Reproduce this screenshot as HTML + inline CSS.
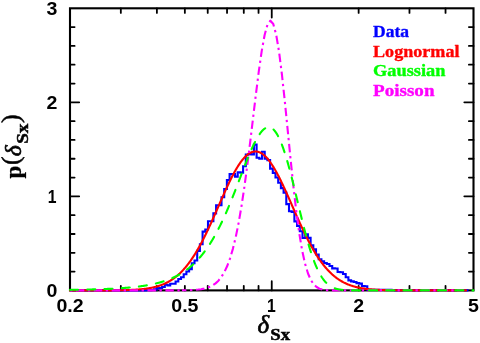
<!DOCTYPE html>
<html><head><meta charset="utf-8"><title>p(delta_Sx)</title>
<style>html,body{margin:0;padding:0;background:#fff;}body{width:480px;height:343px;overflow:hidden;font-family:"Liberation Sans",sans-serif;}svg{display:block;}.sans{font-family:"Liberation Sans",sans-serif;font-weight:bold;}.serif{font-family:"Liberation Serif",serif;font-weight:bold;}.it{font-family:"Liberation Serif",serif;font-style:italic;font-weight:normal;}</style></head><body>
<svg width="480" height="343" viewBox="0 0 480 343">
<rect width="480" height="343" fill="#fff"/>
<g fill="none" stroke="#000" stroke-width="2.1" stroke-linecap="square">
<rect x="70.00" y="8.30" width="403.50" height="282.10"/>
</g>
<path d="M120.83 290.40 V285.80 M120.83 8.30 V12.90 M156.89 290.40 V285.80 M156.89 8.30 V12.90 M184.86 290.40 V285.80 M184.86 8.30 V12.90 M207.72 290.40 V285.80 M207.72 8.30 V12.90 M227.04 290.40 V285.80 M227.04 8.30 V12.90 M243.78 290.40 V285.80 M243.78 8.30 V12.90 M258.54 290.40 V285.80 M258.54 8.30 V12.90 M271.75 290.40 V281.20 M271.75 8.30 V17.50 M358.64 290.40 V285.80 M358.64 8.30 V12.90 M409.47 290.40 V285.80 M409.47 8.30 V12.90 M445.53 290.40 V285.80 M445.53 8.30 V12.90 M70.00 271.59 H74.60 M473.50 271.59 H468.90 M70.00 252.79 H74.60 M473.50 252.79 H468.90 M70.00 233.98 H74.60 M473.50 233.98 H468.90 M70.00 215.17 H74.60 M473.50 215.17 H468.90 M70.00 196.37 H79.20 M473.50 196.37 H464.30 M70.00 177.56 H74.60 M473.50 177.56 H468.90 M70.00 158.75 H74.60 M473.50 158.75 H468.90 M70.00 139.95 H74.60 M473.50 139.95 H468.90 M70.00 121.14 H74.60 M473.50 121.14 H468.90 M70.00 102.33 H79.20 M473.50 102.33 H464.30 M70.00 83.53 H74.60 M473.50 83.53 H468.90 M70.00 64.72 H74.60 M473.50 64.72 H468.90 M70.00 45.91 H74.60 M473.50 45.91 H468.90 M70.00 27.11 H74.60 M473.50 27.11 H468.90" fill="none" stroke="#000" stroke-width="1.8" stroke-linecap="round"/>
<g fill="none" stroke-width="2.1" stroke-linejoin="round">
<path d="M70.00 290.40 L70.30 290.40 L70.30 290.40 L73.00 290.40 L73.00 290.40 L75.70 290.40 L75.70 290.40 L78.40 290.40 L78.40 290.40 L81.10 290.40 L81.10 290.40 L83.80 290.40 L83.80 290.40 L86.50 290.40 L86.50 290.40 L89.20 290.40 L89.20 290.40 L91.90 290.40 L91.90 290.40 L94.60 290.40 L94.60 290.40 L97.30 290.40 L97.30 290.40 L100.00 290.40 L100.00 290.40 L102.70 290.40 L102.70 290.40 L105.40 290.40 L105.40 290.40 L108.10 290.40 L108.10 290.40 L110.80 290.40 L110.80 290.40 L113.50 290.40 L113.50 290.40 L116.20 290.40 L116.20 290.40 L118.90 290.40 L118.90 290.40 L121.60 290.40 L121.60 290.39 L124.30 290.39 L124.30 290.39 L127.00 290.39 L127.00 290.39 L129.70 290.39 L129.70 290.38 L132.40 290.38 L132.40 290.38 L135.10 290.38 L135.10 290.37 L137.80 290.37 L137.80 290.36 L140.50 290.36 L140.50 290.35 L143.20 290.35 L143.20 290.33 L145.90 290.33 L145.90 290.23 L148.60 290.23 L148.60 290.20 L151.30 290.20 L151.30 289.93 L154.00 289.93 L154.00 289.41 L156.70 289.41 L156.70 288.25 L159.40 288.25 L159.40 287.97 L162.10 287.97 L162.10 286.99 L164.80 286.99 L164.80 284.74 L167.50 284.74 L167.50 285.39 L170.20 285.39 L170.20 283.76 L172.90 283.76 L172.90 283.77 L175.60 283.77 L175.60 281.56 L178.30 281.56 L178.30 278.93 L181.00 278.93 L181.00 277.29 L183.70 277.29 L183.70 274.29 L186.40 274.29 L186.40 271.44 L189.10 271.44 L189.10 269.11 L191.80 269.11 L191.80 263.29 L194.50 263.29 L194.50 260.48 L197.20 260.48 L197.20 250.91 L199.90 250.91 L199.90 244.32 L202.60 244.32 L202.60 231.63 L205.30 231.63 L205.30 229.47 L208.00 229.47 L208.00 221.19 L210.70 221.19 L210.70 221.19 L213.40 221.19 L213.40 213.39 L216.10 213.39 L216.10 205.21 L218.80 205.21 L218.80 205.21 L221.50 205.21 L221.50 197.31 L224.20 197.31 L224.20 188.94 L226.90 188.94 L226.90 180.10 L229.60 180.10 L229.60 174.08 L232.30 174.08 L232.30 174.08 L235.00 174.08 L235.00 176.62 L237.70 176.62 L237.70 172.29 L240.40 172.29 L240.40 172.67 L243.10 172.67 L243.10 166.28 L245.80 166.28 L245.80 154.62 L248.50 154.62 L248.50 154.05 L251.20 154.05 L251.20 154.33 L253.90 154.33 L253.90 144.65 L256.60 144.65 L256.60 157.81 L259.30 157.81 L259.30 158.75 L262.00 158.75 L262.00 151.70 L264.70 151.70 L264.70 158.75 L267.40 158.75 L267.40 160.16 L270.10 160.16 L270.10 168.63 L272.80 168.63 L272.80 172.86 L275.50 172.86 L275.50 177.56 L278.20 177.56 L278.20 182.77 L280.90 182.77 L280.90 188.11 L283.60 188.11 L283.60 192.62 L286.30 192.62 L286.30 204.09 L289.00 204.09 L289.00 211.26 L291.70 211.26 L291.70 211.92 L294.40 211.92 L294.40 221.38 L297.10 221.38 L297.10 225.90 L299.80 225.90 L299.80 231.31 L302.50 231.31 L302.50 238.05 L305.20 238.05 L305.20 234.22 L307.90 234.22 L307.90 237.91 L310.60 237.91 L310.60 245.37 L313.30 245.37 L313.30 249.20 L316.00 249.20 L316.00 254.50 L318.70 254.50 L318.70 259.26 L321.40 259.26 L321.40 261.32 L324.10 261.32 L324.10 262.97 L326.80 262.97 L326.80 264.03 L329.50 264.03 L329.50 266.02 L332.20 266.02 L332.20 268.42 L334.90 268.42 L334.90 268.55 L337.60 268.55 L337.60 272.00 L340.30 272.00 L340.30 272.26 L343.00 272.26 L343.00 274.02 L345.70 274.02 L345.70 277.20 L348.40 277.20 L348.40 280.35 L351.10 280.35 L351.10 281.35 L353.80 281.35 L353.80 281.98 L356.50 281.98 L356.50 283.10 L359.20 283.10 L359.20 283.67 L361.90 283.67 L361.90 286.03 L364.60 286.03 L364.60 286.25 L367.30 286.25 L367.30 289.74 L370.00 289.74 L370.00 289.74 L372.70 289.74 L372.70 289.74 L375.40 289.74 L375.40 289.74 L378.10 289.74 L378.10 289.74 L380.80 289.74 L380.80 289.74 L383.50 289.74 L383.50 289.74 L386.20 289.74 L386.20 289.74 L388.90 289.74 L388.90 289.74 L391.60 289.74 L391.60 290.40 L394.30 290.40 L394.30 290.40 L397.00 290.40 L397.00 290.40 L399.70 290.40 L399.70 290.40 L402.40 290.40 L402.40 290.40 L405.10 290.40 L405.10 290.40 L407.80 290.40 L407.80 290.40 L410.50 290.40 L410.50 290.40 L413.20 290.40 L413.20 290.40 L415.90 290.40 L415.90 290.40 L418.60 290.40 L418.60 290.40 L421.30 290.40 L421.30 290.40 L424.00 290.40 L424.00 290.40 L426.70 290.40 L426.70 290.40 L429.40 290.40 L429.40 290.40 L432.10 290.40 L432.10 290.40 L434.80 290.40 L434.80 290.40 L437.50 290.40 L437.50 290.40 L440.20 290.40 L440.20 290.40 L442.90 290.40 L442.90 290.40 L445.60 290.40 L445.60 290.40 L448.30 290.40 L448.30 290.40 L451.00 290.40 L451.00 290.40 L453.70 290.40 L453.70 290.40 L456.40 290.40 L456.40 290.40 L459.10 290.40 L459.10 290.40 L461.80 290.40 L461.80 290.40 L464.50 290.40 L464.50 290.40 L467.20 290.40 L467.20 290.40 L468.50 290.40" stroke="#0000ff" stroke-linejoin="miter"/>
<path d="M70.00 290.40 L70.50 290.40 L71.00 290.40 L71.50 290.40 L72.00 290.40 L72.50 290.40 L73.00 290.40 L73.50 290.40 L74.00 290.40 L74.50 290.40 L75.00 290.40 L75.50 290.40 L76.00 290.40 L76.50 290.40 L77.00 290.40 L77.50 290.40 L78.00 290.40 L78.50 290.40 L79.00 290.40 L79.50 290.40 L80.00 290.40 L80.50 290.40 L81.00 290.40 L81.50 290.40 L82.00 290.40 L82.50 290.40 L83.00 290.40 L83.50 290.40 L84.00 290.40 L84.50 290.40 L85.00 290.40 L85.50 290.40 L86.00 290.40 L86.50 290.40 L87.00 290.40 L87.50 290.40 L88.00 290.40 L88.50 290.39 L89.00 290.39 L89.50 290.39 L90.00 290.39 L90.50 290.39 L91.00 290.39 L91.50 290.39 L92.00 290.39 L92.50 290.39 L93.00 290.39 L93.50 290.39 L94.00 290.39 L94.50 290.39 L95.00 290.39 L95.50 290.39 L96.00 290.39 L96.50 290.39 L97.00 290.39 L97.50 290.39 L98.00 290.38 L98.50 290.38 L99.00 290.38 L99.50 290.38 L100.00 290.38 L100.50 290.38 L101.00 290.38 L101.50 290.38 L102.00 290.38 L102.50 290.37 L103.00 290.37 L103.50 290.37 L104.00 290.37 L104.50 290.37 L105.00 290.37 L105.50 290.36 L106.00 290.36 L106.50 290.36 L107.00 290.36 L107.50 290.35 L108.00 290.35 L108.50 290.35 L109.00 290.35 L109.50 290.34 L110.00 290.34 L110.50 290.34 L111.00 290.33 L111.50 290.33 L112.00 290.33 L112.50 290.32 L113.00 290.32 L113.50 290.31 L114.00 290.31 L114.50 290.31 L115.00 290.30 L115.50 290.29 L116.00 290.29 L116.50 290.28 L117.00 290.28 L117.50 290.27 L118.00 290.26 L118.50 290.26 L119.00 290.25 L119.50 290.24 L120.00 290.23 L120.50 290.23 L121.00 290.22 L121.50 290.21 L122.00 290.20 L122.50 290.19 L123.00 290.18 L123.50 290.17 L124.00 290.15 L124.50 290.14 L125.00 290.13 L125.50 290.12 L126.00 290.10 L126.50 290.09 L127.00 290.07 L127.50 290.06 L128.00 290.04 L128.50 290.02 L129.00 290.01 L129.50 289.99 L130.00 289.97 L130.50 289.95 L131.00 289.93 L131.50 289.90 L132.00 289.88 L132.50 289.86 L133.00 289.83 L133.50 289.81 L134.00 289.78 L134.50 289.75 L135.00 289.72 L135.50 289.69 L136.00 289.66 L136.50 289.63 L137.00 289.59 L137.50 289.56 L138.00 289.52 L138.50 289.48 L139.00 289.44 L139.50 289.40 L140.00 289.35 L140.50 289.31 L141.00 289.26 L141.50 289.21 L142.00 289.16 L142.50 289.11 L143.00 289.06 L143.50 289.00 L144.00 288.94 L144.50 288.88 L145.00 288.82 L145.50 288.75 L146.00 288.68 L146.50 288.61 L147.00 288.54 L147.50 288.47 L148.00 288.39 L148.50 288.31 L149.00 288.22 L149.50 288.14 L150.00 288.05 L150.50 287.96 L151.00 287.86 L151.50 287.76 L152.00 287.66 L152.50 287.55 L153.00 287.44 L153.50 287.33 L154.00 287.21 L154.50 287.09 L155.00 286.97 L155.50 286.84 L156.00 286.71 L156.50 286.57 L157.00 286.43 L157.50 286.29 L158.00 286.14 L158.50 285.98 L159.00 285.82 L159.50 285.66 L160.00 285.49 L160.50 285.31 L161.00 285.13 L161.50 284.95 L162.00 284.76 L162.50 284.56 L163.00 284.36 L163.50 284.15 L164.00 283.94 L164.50 283.72 L165.00 283.49 L165.50 283.26 L166.00 283.02 L166.50 282.77 L167.00 282.52 L167.50 282.26 L168.00 282.00 L168.50 281.72 L169.00 281.44 L169.50 281.15 L170.00 280.86 L170.50 280.56 L171.00 280.25 L171.50 279.93 L172.00 279.60 L172.50 279.27 L173.00 278.92 L173.50 278.57 L174.00 278.21 L174.50 277.84 L175.00 277.47 L175.50 277.08 L176.00 276.68 L176.50 276.28 L177.00 275.87 L177.50 275.44 L178.00 275.01 L178.50 274.57 L179.00 274.12 L179.50 273.66 L180.00 273.18 L180.50 272.70 L181.00 272.21 L181.50 271.71 L182.00 271.20 L182.50 270.67 L183.00 270.14 L183.50 269.60 L184.00 269.04 L184.50 268.48 L185.00 267.90 L185.50 267.31 L186.00 266.72 L186.50 266.11 L187.00 265.49 L187.50 264.86 L188.00 264.21 L188.50 263.56 L189.00 262.90 L189.50 262.22 L190.00 261.53 L190.50 260.83 L191.00 260.12 L191.50 259.40 L192.00 258.67 L192.50 257.93 L193.00 257.17 L193.50 256.40 L194.00 255.62 L194.50 254.83 L195.00 254.03 L195.50 253.22 L196.00 252.40 L196.50 251.56 L197.00 250.72 L197.50 249.86 L198.00 249.00 L198.50 248.12 L199.00 247.23 L199.50 246.33 L200.00 245.42 L200.50 244.50 L201.00 243.57 L201.50 242.63 L202.00 241.68 L202.50 240.72 L203.00 239.75 L203.50 238.77 L204.00 237.78 L204.50 236.78 L205.00 235.78 L205.50 234.76 L206.00 233.74 L206.50 232.71 L207.00 231.67 L207.50 230.62 L208.00 229.56 L208.50 228.50 L209.00 227.43 L209.50 226.36 L210.00 225.27 L210.50 224.19 L211.00 223.09 L211.50 221.99 L212.00 220.88 L212.50 219.77 L213.00 218.66 L213.50 217.54 L214.00 216.42 L214.50 215.29 L215.00 214.16 L215.50 213.03 L216.00 211.89 L216.50 210.76 L217.00 209.62 L217.50 208.48 L218.00 207.34 L218.50 206.20 L219.00 205.06 L219.50 203.91 L220.00 202.77 L220.50 201.64 L221.00 200.50 L221.50 199.36 L222.00 198.23 L222.50 197.10 L223.00 195.98 L223.50 194.86 L224.00 193.74 L224.50 192.63 L225.00 191.52 L225.50 190.42 L226.00 189.32 L226.50 188.23 L227.00 187.15 L227.50 186.08 L228.00 185.01 L228.50 183.96 L229.00 182.91 L229.50 181.87 L230.00 180.84 L230.50 179.83 L231.00 178.82 L231.50 177.83 L232.00 176.84 L232.50 175.87 L233.00 174.91 L233.50 173.97 L234.00 173.04 L234.50 172.12 L235.00 171.22 L235.50 170.34 L236.00 169.47 L236.50 168.61 L237.00 167.77 L237.50 166.95 L238.00 166.15 L238.50 165.36 L239.00 164.59 L239.50 163.85 L240.00 163.11 L240.50 162.40 L241.00 161.71 L241.50 161.04 L242.00 160.39 L242.50 159.76 L243.00 159.15 L243.50 158.56 L244.00 157.99 L244.50 157.45 L245.00 156.92 L245.50 156.42 L246.00 155.95 L246.50 155.49 L247.00 155.06 L247.50 154.66 L248.00 154.27 L248.50 153.91 L249.00 153.58 L249.50 153.27 L250.00 152.98 L250.50 152.72 L251.00 152.48 L251.50 152.27 L252.00 152.08 L252.50 151.92 L253.00 151.78 L253.50 151.67 L254.00 151.58 L254.50 151.52 L255.00 151.49 L255.50 151.48 L256.00 151.49 L256.50 151.53 L257.00 151.60 L257.50 151.69 L258.00 151.81 L258.50 151.95 L259.00 152.12 L259.50 152.31 L260.00 152.53 L260.50 152.78 L261.00 153.04 L261.50 153.34 L262.00 153.65 L262.50 153.99 L263.00 154.36 L263.50 154.75 L264.00 155.16 L264.50 155.60 L265.00 156.06 L265.50 156.54 L266.00 157.04 L266.50 157.57 L267.00 158.12 L267.50 158.69 L268.00 159.29 L268.50 159.90 L269.00 160.54 L269.50 161.19 L270.00 161.87 L270.50 162.57 L271.00 163.28 L271.50 164.02 L272.00 164.77 L272.50 165.54 L273.00 166.33 L273.50 167.14 L274.00 167.97 L274.50 168.81 L275.00 169.67 L275.50 170.54 L276.00 171.43 L276.50 172.34 L277.00 173.26 L277.50 174.19 L278.00 175.14 L278.50 176.10 L279.00 177.07 L279.50 178.06 L280.00 179.05 L280.50 180.06 L281.00 181.08 L281.50 182.11 L282.00 183.15 L282.50 184.20 L283.00 185.26 L283.50 186.33 L284.00 187.40 L284.50 188.49 L285.00 189.58 L285.50 190.67 L286.00 191.77 L286.50 192.88 L287.00 194.00 L287.50 195.12 L288.00 196.24 L288.50 197.36 L289.00 198.49 L289.50 199.63 L290.00 200.76 L290.50 201.90 L291.00 203.04 L291.50 204.18 L292.00 205.32 L292.50 206.46 L293.00 207.60 L293.50 208.74 L294.00 209.88 L294.50 211.02 L295.00 212.16 L295.50 213.29 L296.00 214.42 L296.50 215.55 L297.00 216.68 L297.50 217.80 L298.00 218.92 L298.50 220.03 L299.00 221.14 L299.50 222.25 L300.00 223.35 L300.50 224.44 L301.00 225.53 L301.50 226.61 L302.00 227.68 L302.50 228.75 L303.00 229.81 L303.50 230.86 L304.00 231.91 L304.50 232.95 L305.00 233.98 L305.50 235.00 L306.00 236.01 L306.50 237.02 L307.00 238.01 L307.50 239.00 L308.00 239.98 L308.50 240.94 L309.00 241.90 L309.50 242.85 L310.00 243.79 L310.50 244.71 L311.00 245.63 L311.50 246.54 L312.00 247.44 L312.50 248.32 L313.00 249.20 L313.50 250.06 L314.00 250.92 L314.50 251.76 L315.00 252.59 L315.50 253.41 L316.00 254.22 L316.50 255.02 L317.00 255.81 L317.50 256.58 L318.00 257.35 L318.50 258.10 L319.00 258.84 L319.50 259.57 L320.00 260.29 L320.50 261.00 L321.00 261.69 L321.50 262.38 L322.00 263.05 L322.50 263.71 L323.00 264.36 L323.50 265.00 L324.00 265.63 L324.50 266.25 L325.00 266.86 L325.50 267.45 L326.00 268.04 L326.50 268.61 L327.00 269.17 L327.50 269.72 L328.00 270.27 L328.50 270.80 L329.00 271.32 L329.50 271.83 L330.00 272.33 L330.50 272.82 L331.00 273.29 L331.50 273.76 L332.00 274.22 L332.50 274.67 L333.00 275.11 L333.50 275.54 L334.00 275.96 L334.50 276.37 L335.00 276.78 L335.50 277.17 L336.00 277.55 L336.50 277.93 L337.00 278.30 L337.50 278.65 L338.00 279.00 L338.50 279.34 L339.00 279.68 L339.50 280.00 L340.00 280.32 L340.50 280.63 L341.00 280.93 L341.50 281.22 L342.00 281.51 L342.50 281.79 L343.00 282.06 L343.50 282.32 L344.00 282.58 L344.50 282.83 L345.00 283.07 L345.50 283.31 L346.00 283.54 L346.50 283.77 L347.00 283.99 L347.50 284.20 L348.00 284.41 L348.50 284.61 L349.00 284.80 L349.50 284.99 L350.00 285.17 L350.50 285.35 L351.00 285.53 L351.50 285.69 L352.00 285.86 L352.50 286.02 L353.00 286.17 L353.50 286.32 L354.00 286.46 L354.50 286.60 L355.00 286.74 L355.50 286.87 L356.00 287.00 L356.50 287.12 L357.00 287.24 L357.50 287.36 L358.00 287.47 L358.50 287.58 L359.00 287.68 L359.50 287.78 L360.00 287.88 L360.50 287.98 L361.00 288.07 L361.50 288.16 L362.00 288.24 L362.50 288.33 L363.00 288.41 L363.50 288.48 L364.00 288.56 L364.50 288.63 L365.00 288.70 L365.50 288.77 L366.00 288.83 L366.50 288.89 L367.00 288.96 L367.50 289.01 L368.00 289.07 L368.50 289.12 L369.00 289.18 L369.50 289.23 L370.00 289.27 L370.50 289.32 L371.00 289.36 L371.50 289.41 L372.00 289.45 L372.50 289.49 L373.00 289.53 L373.50 289.56 L374.00 289.60 L374.50 289.63 L375.00 289.67 L375.50 289.70 L376.00 289.73 L376.50 289.76 L377.00 289.79 L377.50 289.81 L378.00 289.84 L378.50 289.86 L379.00 289.89 L379.50 289.91 L380.00 289.93 L380.50 289.95 L381.00 289.97 L381.50 289.99 L382.00 290.01 L382.50 290.03 L383.00 290.04 L383.50 290.06 L384.00 290.08 L384.50 290.09 L385.00 290.11 L385.50 290.12 L386.00 290.13 L386.50 290.15 L387.00 290.16 L387.50 290.17 L388.00 290.18 L388.50 290.19 L389.00 290.20 L389.50 290.21 L390.00 290.22 L390.50 290.23 L391.00 290.24 L391.50 290.24 L392.00 290.25 L392.50 290.26 L393.00 290.27 L393.50 290.27 L394.00 290.28 L394.50 290.28 L395.00 290.29 L395.50 290.30 L396.00 290.30 L396.50 290.31 L397.00 290.31 L397.50 290.32 L398.00 290.32 L398.50 290.32 L399.00 290.33 L399.50 290.33 L400.00 290.33 L400.50 290.34 L401.00 290.34 L401.50 290.34 L402.00 290.35 L402.50 290.35 L403.00 290.35 L403.50 290.36 L404.00 290.36 L404.50 290.36 L405.00 290.36 L405.50 290.36 L406.00 290.37 L406.50 290.37 L407.00 290.37 L407.50 290.37 L408.00 290.37 L408.50 290.37 L409.00 290.38 L409.50 290.38 L410.00 290.38 L410.50 290.38 L411.00 290.38 L411.50 290.38 L412.00 290.38 L412.50 290.38 L413.00 290.38 L413.50 290.39 L414.00 290.39 L414.50 290.39 L415.00 290.39 L415.50 290.39 L416.00 290.39 L416.50 290.39 L417.00 290.39 L417.50 290.39 L418.00 290.39 L418.50 290.39 L419.00 290.39 L419.50 290.39 L420.00 290.39 L420.50 290.39 L421.00 290.39 L421.50 290.39 L422.00 290.39 L422.50 290.40 L423.00 290.40 L423.50 290.40 L424.00 290.40 L424.50 290.40 L425.00 290.40 L425.50 290.40 L426.00 290.40 L426.50 290.40 L427.00 290.40 L427.50 290.40 L428.00 290.40 L428.50 290.40 L429.00 290.40 L429.50 290.40 L430.00 290.40 L430.50 290.40 L431.00 290.40 L431.50 290.40 L432.00 290.40 L432.50 290.40 L433.00 290.40 L433.50 290.40 L434.00 290.40 L434.50 290.40 L435.00 290.40 L435.50 290.40 L436.00 290.40 L436.50 290.40 L437.00 290.40 L437.50 290.40 L438.00 290.40 L438.50 290.40 L439.00 290.40 L439.50 290.40 L440.00 290.40 L440.50 290.40 L441.00 290.40 L441.50 290.40 L442.00 290.40 L442.50 290.40 L443.00 290.40 L443.50 290.40 L444.00 290.40 L444.50 290.40 L445.00 290.40 L445.50 290.40 L446.00 290.40 L446.50 290.40 L447.00 290.40 L447.50 290.40 L448.00 290.40 L448.50 290.40 L449.00 290.40 L449.50 290.40 L450.00 290.40 L450.50 290.40 L451.00 290.40 L451.50 290.40 L452.00 290.40 L452.50 290.40 L453.00 290.40 L453.50 290.40 L454.00 290.40 L454.50 290.40 L455.00 290.40 L455.50 290.40 L456.00 290.40 L456.50 290.40 L457.00 290.40 L457.50 290.40 L458.00 290.40 L458.50 290.40 L459.00 290.40 L459.50 290.40 L460.00 290.40 L460.50 290.40 L461.00 290.40 L461.50 290.40 L462.00 290.40 L462.50 290.40 L463.00 290.40 L463.50 290.40 L464.00 290.40 L464.50 290.40 L465.00 290.40 L465.50 290.40 L466.00 290.40" stroke="#ff0000" stroke-linecap="round"/>
<path d="M70.00 290.40 L71.27 290.40 L74.15 290.40 L77.04 290.40 L79.92 290.40 L82.81 290.40 L85.70 290.40 L88.58 290.40 L91.47 290.40 L94.35 290.40 L97.24 290.40 L100.13 290.40 L103.01 290.40 L105.90 290.40 L108.78 290.40 L111.67 290.40 L114.56 290.40 L117.44 290.40 L120.33 290.40 L123.21 290.40 L126.10 290.40 L128.99 290.40 L131.87 290.40 L134.76 290.40 L137.64 290.40 L140.53 290.40 L143.42 290.40 L146.30 290.40 L149.19 290.40 L152.07 290.40 L154.96 290.40 L157.85 290.40 L160.73 290.40 L163.62 290.39 L166.50 290.39 L169.39 290.38 L172.28 290.38 L175.16 290.36 L178.05 290.35 L180.93 290.32 L182.00 290.31" stroke="#ff00ff" stroke-dasharray="2.3 3.6 8.4 3.6" stroke-linecap="butt"/>
<path d="M182.00 290.31 L183.82 290.28 L186.71 290.22 L189.59 290.13 L192.48 290.01 L195.36 289.82 L198.25 289.56 L201.14 289.18 L204.02 288.64 L206.91 287.88 L209.79 286.82 L212.68 285.35 L215.57 283.36 L218.45 280.67 L221.34 277.08 L224.22 272.38 L227.11 266.29 L230.00 258.55 L232.88 248.86 L235.77 236.98 L238.65 222.69 L241.54 205.90 L244.43 186.65 L247.31 165.19 L250.20 142.00 L253.08 117.84 L255.97 93.74 L258.86 70.94 L261.74 50.87 L264.63 34.96 L267.51 24.56 L270.40 20.72 L273.29 24.04 L276.17 34.60 L279.06 51.84 L281.94 74.64 L284.83 101.43 L287.72 130.34 L290.60 159.50 L293.49 187.19 L296.37 212.07 L299.26 233.28 L302.15 250.44 L305.03 263.63 L307.92 273.25 L310.80 279.92 L313.69 284.31 L316.58 287.03 L319.46 288.63 L322.35 289.52 L325.00 289.96" stroke="#ff00ff" stroke-dasharray="2.3 3.7 8.45 3.7" stroke-dashoffset="10.09" stroke-linecap="butt"/>
<path d="M325.00 289.96 L325.50 290.02 L326.00 290.07 L326.50 290.11 L327.00 290.15 L327.50 290.18 L328.00 290.21 L328.50 290.24 L329.00 290.26 L329.50 290.28 L330.00 290.30 L330.50 290.31 L331.00 290.32 L331.50 290.34 L332.00 290.35 L332.50 290.35 L333.00 290.36 L333.50 290.37 L334.00 290.37 L334.50 290.38 L335.00 290.38 L335.50 290.38 L336.00 290.39 L336.50 290.39 L337.00 290.39 L337.50 290.39 L338.00 290.39 L338.50 290.39 L339.00 290.40 L339.50 290.40 L340.00 290.40 L340.50 290.40 L341.00 290.40 L341.50 290.40 L342.00 290.40 L342.50 290.40 L343.00 290.40 L343.50 290.40 L344.00 290.40 L344.50 290.40 L345.00 290.40 L345.50 290.40 L346.00 290.40 L346.50 290.40 L347.00 290.40 L347.50 290.40 L348.00 290.40 L348.50 290.40 L349.00 290.40 L349.50 290.40 L350.00 290.40 L350.50 290.40 L351.00 290.40 L351.50 290.40 L352.00 290.40 L352.50 290.40 L353.00 290.40 L353.50 290.40 L354.00 290.40 L354.50 290.40 L355.00 290.40 L355.50 290.40 L356.00 290.40 L356.50 290.40 L357.00 290.40 L357.50 290.40 L358.00 290.40 L358.50 290.40 L359.00 290.40 L359.50 290.40 L360.00 290.40 L360.50 290.40 L361.00 290.40 L361.50 290.40 L362.00 290.40 L362.50 290.40 L363.00 290.40 L363.50 290.40 L364.00 290.40 L364.50 290.40 L365.00 290.40 L365.50 290.40 L366.00 290.40 L366.50 290.40 L367.00 290.40 L367.50 290.40 L368.00 290.40 L368.50 290.40 L369.00 290.40 L369.50 290.40 L370.00 290.40 L370.50 290.40 L371.00 290.40 L371.50 290.40 L372.00 290.40 L372.50 290.40 L373.00 290.40 L373.50 290.40 L374.00 290.40 L374.50 290.40 L375.00 290.40 L375.50 290.40 L376.00 290.40 L376.50 290.40 L377.00 290.40 L377.50 290.40 L378.00 290.40 L378.50 290.40 L379.00 290.40 L379.50 290.40 L380.00 290.40 L380.50 290.40 L381.00 290.40 L381.50 290.40 L382.00 290.40 L382.50 290.40 L383.00 290.40 L383.50 290.40 L384.00 290.40 L384.50 290.40 L385.00 290.40 L385.50 290.40 L386.00 290.40 L386.50 290.40 L387.00 290.40 L387.50 290.40 L388.00 290.40 L388.50 290.40 L389.00 290.40 L389.50 290.40 L390.00 290.40 L390.50 290.40 L391.00 290.40 L391.50 290.40 L392.00 290.40 L392.50 290.40 L393.00 290.40 L393.50 290.40 L394.00 290.40 L394.50 290.40 L395.00 290.40 L395.50 290.40 L396.00 290.40 L396.50 290.40 L397.00 290.40 L397.50 290.40 L398.00 290.40 L398.50 290.40 L399.00 290.40 L399.50 290.40 L400.00 290.40 L400.50 290.40 L401.00 290.40 L401.50 290.40 L402.00 290.40 L402.50 290.40 L403.00 290.40 L403.50 290.40 L404.00 290.40 L404.50 290.40 L405.00 290.40 L405.50 290.40 L406.00 290.40 L406.50 290.40 L407.00 290.40 L407.50 290.40 L408.00 290.40 L408.50 290.40 L409.00 290.40 L409.50 290.40 L410.00 290.40 L410.50 290.40 L411.00 290.40 L411.50 290.40 L412.00 290.40 L412.50 290.40 L413.00 290.40 L413.50 290.40 L414.00 290.40 L414.50 290.40 L415.00 290.40 L415.50 290.40 L416.00 290.40 L416.50 290.40 L417.00 290.40 L417.50 290.40 L418.00 290.40 L418.50 290.40 L419.00 290.40 L419.50 290.40 L420.00 290.40 L420.50 290.40 L421.00 290.40 L421.50 290.40 L422.00 290.40 L422.50 290.40 L423.00 290.40 L423.50 290.40 L424.00 290.40 L424.50 290.40 L425.00 290.40 L425.50 290.40 L426.00 290.40 L426.50 290.40 L427.00 290.40 L427.50 290.40 L428.00 290.40 L428.50 290.40 L429.00 290.40 L429.50 290.40 L430.00 290.40 L430.50 290.40 L431.00 290.40 L431.50 290.40 L432.00 290.40 L432.50 290.40 L433.00 290.40 L433.50 290.40 L434.00 290.40 L434.50 290.40 L435.00 290.40 L435.50 290.40 L436.00 290.40 L436.50 290.40 L437.00 290.40 L437.50 290.40 L438.00 290.40 L438.50 290.40 L439.00 290.40 L439.50 290.40 L440.00 290.40 L440.50 290.40 L441.00 290.40 L441.50 290.40 L442.00 290.40 L442.50 290.40 L443.00 290.40 L443.50 290.40 L444.00 290.40 L444.50 290.40 L445.00 290.40 L445.50 290.40 L446.00 290.40 L446.50 290.40 L447.00 290.40 L447.50 290.40 L448.00 290.40 L448.50 290.40 L449.00 290.40 L449.50 290.40 L450.00 290.40 L450.50 290.40 L451.00 290.40 L451.50 290.40 L452.00 290.40 L452.50 290.40 L453.00 290.40 L453.50 290.40 L454.00 290.40 L454.50 290.40 L455.00 290.40 L455.50 290.40 L456.00 290.40 L456.50 290.40 L457.00 290.40 L457.50 290.40 L458.00 290.40 L458.50 290.40 L459.00 290.40 L459.50 290.40 L460.00 290.40 L460.50 290.40 L461.00 290.40 L461.50 290.40 L462.00 290.40 L462.50 290.40 L463.00 290.40 L463.50 290.40" stroke="#ff00ff" stroke-dasharray="2.3 3.6 8.4 3.6" stroke-dashoffset="16.90" stroke-linecap="butt"/>
<path d="M70.00 289.84 L70.50 289.83 L71.00 289.83 L71.50 289.82 L72.00 289.81 L72.50 289.81 L73.00 289.80 L73.50 289.79 L74.00 289.79 L74.50 289.78 L75.00 289.77 L75.50 289.76 L76.00 289.76 L76.50 289.75 L77.00 289.74 L77.50 289.73 L78.00 289.72 L78.50 289.72 L79.00 289.71 L79.50 289.70 L80.00 289.69 L80.50 289.68 L81.00 289.67 L81.50 289.66 L82.00 289.65 L82.50 289.64 L83.00 289.63 L83.50 289.62 L84.00 289.61 L84.50 289.60 L85.00 289.59 L85.50 289.58 L86.00 289.57 L86.50 289.56 L87.00 289.55 L87.50 289.54 L88.00 289.53 L88.50 289.52 L89.00 289.51 L89.50 289.50 L90.00 289.48 L90.50 289.47 L91.00 289.46 L91.50 289.45 L92.00 289.43 L92.50 289.42 L93.00 289.41 L93.50 289.39 L94.00 289.38 L94.50 289.37 L95.00 289.35 L95.50 289.34 L96.00 289.32 L96.50 289.31 L97.00 289.29 L97.50 289.28 L98.00 289.26 L98.50 289.25 L99.00 289.23 L99.50 289.22 L100.00 289.20 L100.50 289.18 L101.00 289.17 L101.50 289.15 L102.00 289.13 L102.50 289.11 L103.00 289.10 L103.50 289.08 L104.00 289.06 L104.50 289.04 L105.00 289.02 L105.50 289.00 L106.00 288.98 L106.50 288.96 L107.00 288.94 L107.50 288.92 L108.00 288.90 L108.50 288.87 L109.00 288.85 L109.50 288.83 L110.00 288.81 L110.50 288.78 L111.00 288.76 L111.50 288.74 L112.00 288.71 L112.50 288.69 L113.00 288.66 L113.50 288.64 L114.00 288.61 L114.50 288.58 L115.00 288.55 L115.50 288.53 L116.00 288.50 L116.50 288.47 L117.00 288.44 L117.50 288.41 L118.00 288.38 L118.50 288.35 L119.00 288.32 L119.50 288.29 L120.00 288.26 L120.50 288.22 L121.00 288.19 L121.50 288.15 L122.00 288.12 L122.50 288.08 L123.00 288.05 L123.50 288.01 L124.00 287.98 L124.50 287.94 L125.00 287.90 L125.50 287.86 L126.00 287.82 L126.50 287.78 L127.00 287.74 L127.50 287.70 L128.00 287.65 L128.50 287.61 L129.00 287.56 L129.50 287.52 L130.00 287.47 L130.50 287.43 L131.00 287.38 L131.50 287.33 L132.00 287.28 L132.50 287.23 L133.00 287.18 L133.50 287.13 L134.00 287.07 L134.50 287.02 L135.00 286.96 L135.50 286.91 L136.00 286.85 L136.50 286.79 L137.00 286.73 L137.50 286.67 L138.00 286.61 L138.50 286.55 L139.00 286.49 L139.50 286.42 L140.00 286.35 L140.50 286.29 L141.00 286.22 L141.50 286.15 L142.00 286.08 L142.50 286.01 L143.00 285.93 L143.50 285.86 L144.00 285.78 L144.50 285.70 L145.00 285.62 L145.50 285.54 L146.00 285.46 L146.50 285.38 L147.00 285.29 L147.50 285.20 L148.00 285.11 L148.50 285.02 L149.00 284.93 L149.50 284.84 L150.00 284.74 L150.50 284.65 L151.00 284.55 L151.50 284.45 L152.00 284.34 L152.50 284.24 L153.00 284.13 L153.50 284.02 L154.00 283.91 L154.50 283.80 L155.00 283.69 L155.50 283.57 L156.00 283.45 L156.50 283.33 L157.00 283.20 L157.50 283.08 L158.00 282.95 L158.50 282.82 L159.00 282.69 L159.50 282.55 L160.00 282.41 L160.50 282.27 L161.00 282.13 L161.50 281.98 L162.00 281.83 L162.50 281.68 L163.00 281.53 L163.50 281.37 L164.00 281.21 L164.50 281.05 L165.00 280.88 L165.50 280.71 L166.00 280.54 L166.50 280.36 L167.00 280.18 L167.50 280.00 L168.00 279.81 L168.50 279.62 L169.00 279.43 L169.50 279.23 L170.00 279.03 L170.50 278.83 L171.00 278.62 L171.50 278.41 L172.00 278.19 L172.50 277.98 L173.00 277.75 L173.50 277.52 L174.00 277.29 L174.50 277.06 L175.00 276.82 L175.50 276.57 L176.00 276.32 L176.50 276.07 L177.00 275.81 L177.50 275.54 L178.00 275.28 L178.50 275.00 L179.00 274.72 L179.50 274.44 L180.00 274.15 L180.50 273.86 L181.00 273.56 L181.50 273.26 L182.00 272.95 L182.50 272.63 L183.00 272.31 L183.50 271.98 L184.00 271.65 L184.50 271.31 L185.00 270.97 L185.50 270.61 L186.00 270.26 L186.50 269.89 L187.00 269.52 L187.50 269.15 L188.00 268.76 L188.50 268.37 L189.00 267.98 L189.50 267.57 L190.00 267.16 L190.50 266.74 L191.00 266.32 L191.50 265.88 L192.00 265.44 L192.50 265.00 L193.00 264.54 L193.50 264.08 L194.00 263.61 L194.50 263.13 L195.00 262.64 L195.50 262.15 L196.00 261.64 L196.50 261.13 L197.00 260.61 L197.50 260.08 L198.00 259.54 L198.50 259.00 L199.00 258.44 L199.50 257.88 L200.00 257.30 L200.50 256.72 L201.00 256.13 L201.50 255.52 L202.00 254.91 L202.50 254.29 L203.00 253.66 L203.50 253.02 L204.00 252.37 L204.50 251.71 L205.00 251.04 L205.50 250.36 L206.00 249.67 L206.50 248.96 L207.00 248.25 L207.50 247.53 L208.00 246.80 L208.50 246.05 L209.00 245.30 L209.50 244.53 L210.00 243.76 L210.50 242.97 L211.00 242.17 L211.50 241.36 L212.00 240.54 L212.50 239.71 L213.00 238.86 L213.50 238.01 L214.00 237.14 L214.50 236.26 L215.00 235.37 L215.50 234.47 L216.00 233.56 L216.50 232.64 L217.00 231.70 L217.50 230.76 L218.00 229.80 L218.50 228.83 L219.00 227.85 L219.50 226.86 L220.00 225.86 L220.50 224.84 L221.00 223.82 L221.50 222.78 L222.00 221.73 L222.50 220.67 L223.00 219.60 L223.50 218.52 L224.00 217.43 L224.50 216.33 L225.00 215.22 L225.50 214.09 L226.00 212.96 L226.50 211.82 L227.00 210.66 L227.50 209.50 L228.00 208.33 L228.50 207.15 L229.00 205.96 L229.50 204.76 L230.00 203.55 L230.50 202.33 L231.00 201.11 L231.50 199.88 L232.00 198.64 L232.50 197.39 L233.00 196.14 L233.50 194.88 L234.00 193.61 L234.50 192.34 L235.00 191.06 L235.50 189.78 L236.00 188.49 L236.50 187.20 L237.00 185.91 L237.50 184.61 L238.00 183.31 L238.50 182.00 L239.00 180.70 L239.50 179.39 L240.00 178.09 L240.50 176.78 L241.00 175.47 L241.50 174.17 L242.00 172.87 L242.50 171.57 L243.00 170.27 L243.50 168.97 L244.00 167.68 L244.50 166.40 L245.00 165.12 L245.50 163.85 L246.00 162.58 L246.50 161.33 L247.00 160.08 L247.50 158.84 L248.00 157.61 L248.50 156.40 L249.00 155.19 L249.50 154.00 L250.00 152.82 L250.50 151.66 L251.00 150.51 L251.50 149.38 L252.00 148.26 L252.50 147.17 L253.00 146.09 L253.50 145.03 L254.00 143.99 L254.50 142.98 L255.00 141.99 L255.50 141.02 L256.00 140.08 L256.50 139.16 L257.00 138.27 L257.50 137.41 L258.00 136.57 L258.50 135.77 L259.00 134.99 L259.50 134.25 L260.00 133.54 L260.50 132.86 L261.00 132.22 L261.50 131.61 L262.00 131.04 L262.50 130.50 L263.00 130.00 L263.50 129.54 L264.00 129.13 L264.50 128.75 L265.00 128.41 L265.50 128.11 L266.00 127.86 L266.50 127.65 L267.00 127.48 L267.50 127.36 L268.00 127.28 L268.50 127.25 L269.00 127.27 L269.50 127.33 L270.00 127.44 L270.50 127.60 L271.00 127.81 L271.50 128.07 L272.00 128.37 L272.50 128.73 L273.00 129.13 L273.50 129.59 L274.00 130.09 L274.50 130.65 L275.00 131.25 L275.50 131.91 L276.00 132.62 L276.50 133.38 L277.00 134.18 L277.50 135.04 L278.00 135.95 L278.50 136.90 L279.00 137.91 L279.50 138.96 L280.00 140.07 L280.50 141.22 L281.00 142.41 L281.50 143.66 L282.00 144.95 L282.50 146.28 L283.00 147.66 L283.50 149.08 L284.00 150.54 L284.50 152.05 L285.00 153.59 L285.50 155.18 L286.00 156.80 L286.50 158.46 L287.00 160.15 L287.50 161.88 L288.00 163.64 L288.50 165.44 L289.00 167.26 L289.50 169.11 L290.00 170.99 L290.50 172.90 L291.00 174.83 L291.50 176.78 L292.00 178.75 L292.50 180.74 L293.00 182.75 L293.50 184.77 L294.00 186.81 L294.50 188.86 L295.00 190.92 L295.50 192.99 L296.00 195.07 L296.50 197.15 L297.00 199.24 L297.50 201.33 L298.00 203.41 L298.50 205.50 L299.00 207.58 L299.50 209.65 L300.00 211.72 L300.50 213.78 L301.00 215.83 L301.50 217.87 L302.00 219.89 L302.50 221.90 L303.00 223.89 L303.50 225.86 L304.00 227.82 L304.50 229.75 L305.00 231.66 L305.50 233.55 L306.00 235.41 L306.50 237.24 L307.00 239.05 L307.50 240.83 L308.00 242.58 L308.50 244.30 L309.00 245.99 L309.50 247.64 L310.00 249.27 L310.50 250.86 L311.00 252.41 L311.50 253.93 L312.00 255.42 L312.50 256.87 L313.00 258.28 L313.50 259.66 L314.00 261.00 L314.50 262.30 L315.00 263.57 L315.50 264.80 L316.00 265.99 L316.50 267.15 L317.00 268.27 L317.50 269.35 L318.00 270.40 L318.50 271.41 L319.00 272.38 L319.50 273.32 L320.00 274.22 L320.50 275.09 L321.00 275.93 L321.50 276.73 L322.00 277.50 L322.50 278.23 L323.00 278.94 L323.50 279.61 L324.00 280.26 L324.50 280.87 L325.00 281.46 L325.50 282.02 L326.00 282.55 L326.50 283.05 L327.00 283.53 L327.50 283.98 L328.00 284.41 L328.50 284.82 L329.00 285.20 L329.50 285.57 L330.00 285.91" stroke="#00ff00" stroke-dasharray="8.05 9.2" stroke-linecap="round"/>
<path d="M330.30 286.10 L330.80 286.42 L331.30 286.71 L331.80 286.98 L332.30 287.24 L332.80 287.48 L333.30 287.71 L333.80 287.92 L334.30 288.12 L334.80 288.30 L335.30 288.47 L335.80 288.63 L336.30 288.78 L336.80 288.92 L337.30 289.04 L337.80 289.16 L338.30 289.27 L338.80 289.37 L339.30 289.47 L339.80 289.55 L340.30 289.63 L340.80 289.70 L341.30 289.77 L341.80 289.83 L342.30 289.89 L342.80 289.94 L343.30 289.98 L343.80 290.02 L344.30 290.06 L344.80 290.10 L345.30 290.13 L345.80 290.16 L346.30 290.18 L346.80 290.21 L347.30 290.23 L347.80 290.25 L348.30 290.27 L348.80 290.28 L349.30 290.29 L349.80 290.31 L350.30 290.32 L350.80 290.33 L351.30 290.34 L351.80 290.34 L352.30 290.35 L352.80 290.36 L353.30 290.36 L353.80 290.37 L354.30 290.37 L354.80 290.38 L355.30 290.38 L355.80 290.38 L356.30 290.38 L356.80 290.39 L357.30 290.39 L357.80 290.39 L358.30 290.39 L358.80 290.39 L359.30 290.39 L359.80 290.39 L360.30 290.40 L360.80 290.40 L361.30 290.40 L361.80 290.40 L362.30 290.40 L362.80 290.40 L363.30 290.40 L363.80 290.40 L364.30 290.40 L364.80 290.40 L365.30 290.40 L365.80 290.40 L366.30 290.40 L366.80 290.40 L367.30 290.40 L367.80 290.40 L368.30 290.40 L368.80 290.40 L369.30 290.40 L369.80 290.40 L370.30 290.40 L370.80 290.40 L371.30 290.40 L371.80 290.40 L372.30 290.40 L372.80 290.40 L373.30 290.40 L373.80 290.40 L374.30 290.40 L374.80 290.40 L375.30 290.40 L375.80 290.40 L376.30 290.40 L376.80 290.40 L377.30 290.40 L377.80 290.40 L378.30 290.40 L378.80 290.40 L379.30 290.40 L379.80 290.40 L380.30 290.40 L380.80 290.40 L381.30 290.40 L381.80 290.40 L382.30 290.40 L382.80 290.40 L383.30 290.40 L383.80 290.40 L384.30 290.40 L384.80 290.40 L385.30 290.40 L385.80 290.40 L386.30 290.40 L386.80 290.40 L387.30 290.40 L387.80 290.40 L388.30 290.40 L388.80 290.40 L389.30 290.40 L389.80 290.40 L390.30 290.40 L390.80 290.40 L391.30 290.40 L391.80 290.40 L392.30 290.40 L392.80 290.40 L393.30 290.40 L393.80 290.40 L394.30 290.40 L394.80 290.40 L395.30 290.40 L395.80 290.40 L396.30 290.40 L396.80 290.40 L397.30 290.40 L397.80 290.40 L398.30 290.40 L398.80 290.40 L399.30 290.40 L399.80 290.40 L400.30 290.40 L400.80 290.40 L401.30 290.40 L401.80 290.40 L402.30 290.40 L402.80 290.40 L403.30 290.40 L403.80 290.40 L404.30 290.40 L404.80 290.40 L405.30 290.40 L405.80 290.40 L406.30 290.40 L406.80 290.40 L407.30 290.40 L407.80 290.40 L408.30 290.40 L408.80 290.40 L409.30 290.40 L409.80 290.40 L410.30 290.40 L410.80 290.40 L411.30 290.40 L411.80 290.40 L412.30 290.40 L412.80 290.40 L413.30 290.40 L413.80 290.40 L414.30 290.40 L414.80 290.40 L415.30 290.40 L415.80 290.40 L416.30 290.40 L416.80 290.40 L417.30 290.40 L417.80 290.40 L418.30 290.40 L418.80 290.40 L419.30 290.40 L419.80 290.40 L420.30 290.40 L420.80 290.40 L421.30 290.40 L421.80 290.40 L422.30 290.40 L422.80 290.40 L423.30 290.40 L423.80 290.40 L424.30 290.40 L424.80 290.40 L425.30 290.40 L425.80 290.40 L426.30 290.40 L426.80 290.40 L427.30 290.40 L427.80 290.40 L428.30 290.40 L428.80 290.40 L429.30 290.40 L429.80 290.40 L430.30 290.40 L430.80 290.40 L431.30 290.40 L431.80 290.40 L432.30 290.40 L432.80 290.40 L433.30 290.40 L433.80 290.40 L434.30 290.40 L434.80 290.40 L435.30 290.40 L435.80 290.40 L436.30 290.40 L436.80 290.40 L437.30 290.40 L437.80 290.40 L438.30 290.40 L438.80 290.40 L439.30 290.40 L439.80 290.40 L440.30 290.40 L440.80 290.40 L441.30 290.40 L441.80 290.40 L442.30 290.40 L442.80 290.40 L443.30 290.40 L443.80 290.40 L444.30 290.40 L444.80 290.40 L445.30 290.40 L445.80 290.40 L446.30 290.40 L446.80 290.40 L447.30 290.40 L447.80 290.40 L448.30 290.40 L448.80 290.40 L449.30 290.40 L449.80 290.40 L450.30 290.40 L450.80 290.40 L451.30 290.40 L451.80 290.40 L452.30 290.40 L452.80 290.40 L453.30 290.40 L453.80 290.40 L454.30 290.40 L454.80 290.40 L455.30 290.40 L455.80 290.40 L456.30 290.40 L456.80 290.40 L457.30 290.40 L457.80 290.40 L458.30 290.40 L458.80 290.40 L459.30 290.40 L459.80 290.40 L460.30 290.40 L460.80 290.40 L461.30 290.40 L461.80 290.40 L462.30 290.40 L462.80 290.40 L463.30 290.40 L463.80 290.40 L464.30 290.40 L464.80 290.40 L465.30 290.40 L465.80 290.40 L466.30 290.40 L466.80 290.40 L467.30 290.40 L467.80 290.40 L468.30 290.40 L468.80 290.40 L469.30 290.40 L469.80 290.40 L470.30 290.40 L470.80 290.40 L471.30 290.40 L471.80 290.40 L472.30 290.40 L472.80 290.40 L473.30 290.40" stroke="#00ff00" stroke-dasharray="8.05 9.2" stroke-dashoffset="12.28" stroke-linecap="round"/>
</g>
<g opacity="0.999">
<text class="sans" transform="translate(70.00 312.40) scale(1.120 1)" font-size="17.5" text-anchor="middle" fill="#000">0.2</text>
<text class="sans" transform="translate(184.86 312.40) scale(1.120 1)" font-size="17.5" text-anchor="middle" fill="#000">0.5</text>
<text class="sans" transform="translate(271.35 312.40) scale(0.900 1)" font-size="17.5" text-anchor="middle" fill="#000">1</text>
<text class="sans" transform="translate(358.64 312.40) scale(1.120 1)" font-size="17.5" text-anchor="middle" fill="#000">2</text>
<text class="sans" transform="translate(473.50 312.40) scale(1.120 1)" font-size="17.5" text-anchor="middle" fill="#000">5</text>
<text class="sans" transform="translate(57.50 296.70) scale(1.120 1)" font-size="17.5" text-anchor="end" fill="#000">0</text>
<text class="sans" transform="translate(56.60 202.67) scale(0.900 1)" font-size="17.5" text-anchor="end" fill="#000">1</text>
<text class="sans" transform="translate(57.50 108.63) scale(1.120 1)" font-size="17.5" text-anchor="end" fill="#000">2</text>
<text class="sans" transform="translate(57.50 14.60) scale(1.120 1)" font-size="17.5" text-anchor="end" fill="#000">3</text>
<text class="serif" x="373" y="37.00" font-size="16.5" textLength="36.0" lengthAdjust="spacingAndGlyphs" fill="#0000ff" stroke="#0000ff" stroke-width="0.35" stroke-linejoin="round">Data</text>
<text class="serif" x="373" y="57.00" font-size="16.5" textLength="86.5" lengthAdjust="spacingAndGlyphs" fill="#ff0000" stroke="#ff0000" stroke-width="0.35" stroke-linejoin="round">Lognormal</text>
<text class="serif" x="373" y="76.00" font-size="16.5" textLength="72.5" lengthAdjust="spacingAndGlyphs" fill="#00ff00" stroke="#00ff00" stroke-width="0.35" stroke-linejoin="round">Gaussian</text>
<text class="serif" x="373" y="95.50" font-size="16.5" textLength="61.5" lengthAdjust="spacingAndGlyphs" fill="#ff00ff" stroke="#ff00ff" stroke-width="0.35" stroke-linejoin="round">Poisson</text>
<text class="it" x="257.5" y="332.5" font-size="25" fill="#000" stroke="#000" stroke-width="0.7">δ</text>
<text class="serif" x="270.3" y="340.2" font-size="16" textLength="19.8" lengthAdjust="spacingAndGlyphs" fill="#000" stroke="#000" stroke-width="0.5">Sx</text>
<g transform="translate(20.6 178.6) rotate(-90)" fill="#000" stroke="#000" stroke-width="0.25">
<text class="serif" x="0" y="0" font-size="23">p</text>
<text class="serif" x="13.6" y="-1.2" font-size="26" style="font-weight:normal" stroke-width="0.5">(</text>
<text class="it" x="22.4" y="0" font-size="23.5" stroke-width="0.7">δ</text>
<text class="serif" x="34.8" y="7.6" font-size="16" stroke-width="0.5" textLength="20.2" lengthAdjust="spacingAndGlyphs">Sx</text>
<text class="serif" x="55.6" y="-1.2" font-size="26" style="font-weight:normal" stroke-width="0.5">)</text>
</g>
</g>
</svg>
</body></html>
